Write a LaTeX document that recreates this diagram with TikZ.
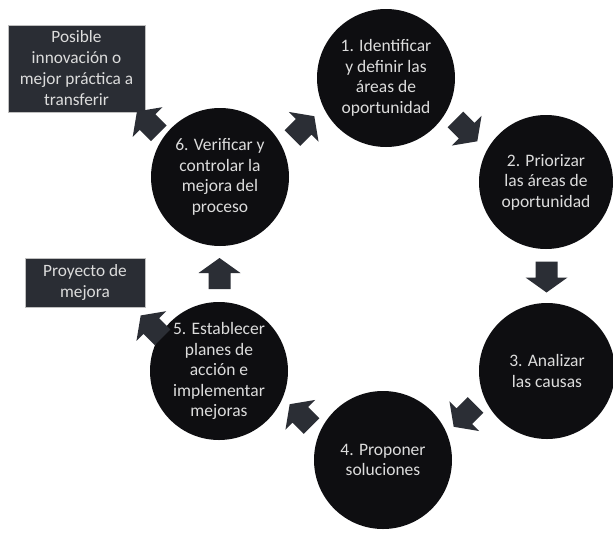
\documentclass[tikz,border=0pt]{standalone}
\usepackage{fontspec}
\setmainfont{Carlito}
\usetikzlibrary{calc}
\definecolor{circfill}{HTML}{0E0E11}
\definecolor{boxfill}{HTML}{2A2D34}
\definecolor{arrfill}{HTML}{2B2E35}
\definecolor{txt}{HTML}{DCDCDC}
\tikzset{
  stepcirc/.style={circle, fill=circfill, minimum size=138pt, inner sep=0pt,
    text=txt, align=center, font=\fontsize{17.5}{20.5}\selectfont},
  sidebox/.style={rectangle, fill=boxfill, draw=gray!50, line width=0.6pt,
    inner sep=0pt, text=txt, align=center, font=\fontsize{17.3}{21}\selectfont},
  blockarrow/.pic={\fill[arrfill] (-15,-11) -- (1,-11) -- (1,-21) -- (16,0)
    -- (1,21) -- (1,11) -- (-15,11) -- cycle;}
}
\begin{document}
\begin{tikzpicture}[x=1pt,y=-1pt]
\useasboundingbox (0,0) rectangle (613,533);
\fill[white] (0,0) rectangle (613,533);
\node[stepcirc] (c1) at (386,78) {1. Identificar\\y definir las\\áreas de\\oportunidad};
\node[stepcirc, minimum size=134pt] (c2) at (546,182) {2. Priorizar\\las áreas de\\oportunidad};
\node[stepcirc, minimum size=136pt] (c3) at (547,371) {3. Analizar\\las causas};
\node[stepcirc] (c4) at (383,460) {4. Proponer\\soluciones};
\node[stepcirc] (c5) at (219,371) {5. Establecer\\planes de\\acción e\\implementar\\mejoras};
\node[stepcirc] (c6) at (220,177) {6. Verificar y\\controlar la\\mejora del\\proceso};
\node[sidebox, minimum width=137pt, minimum height=87pt] (b1) at (76.5,68.5)
  {Posible\\innovación o\\mejor práctica a\\transferir};
\node[sidebox, minimum width=120pt, minimum height=49pt] (b2) at (85,282.5)
  {Proyecto de\\mejora};
\path ($(c6)!0.5!(c1)$) pic[rotate=45]{blockarrow};
\path ($(c1)!0.5!(c2)$) pic[rotate=-45]{blockarrow};
\path ($(c2)!0.5!(c3)$) pic[rotate=-90]{blockarrow};
\path ($(c3)!0.5!(c4)$) pic[rotate=-135]{blockarrow};
\path ($(c4)!0.5!(c5)$) pic[rotate=135]{blockarrow};
\path ($(c5)!0.5!(c6)$) pic[rotate=90]{blockarrow};
\path ($(c6)!0.5!(b1)$) pic[rotate=135]{blockarrow};
\path ($(c5)!0.5!(b2)$) pic[rotate=135]{blockarrow};
\end{tikzpicture}
\end{document}
